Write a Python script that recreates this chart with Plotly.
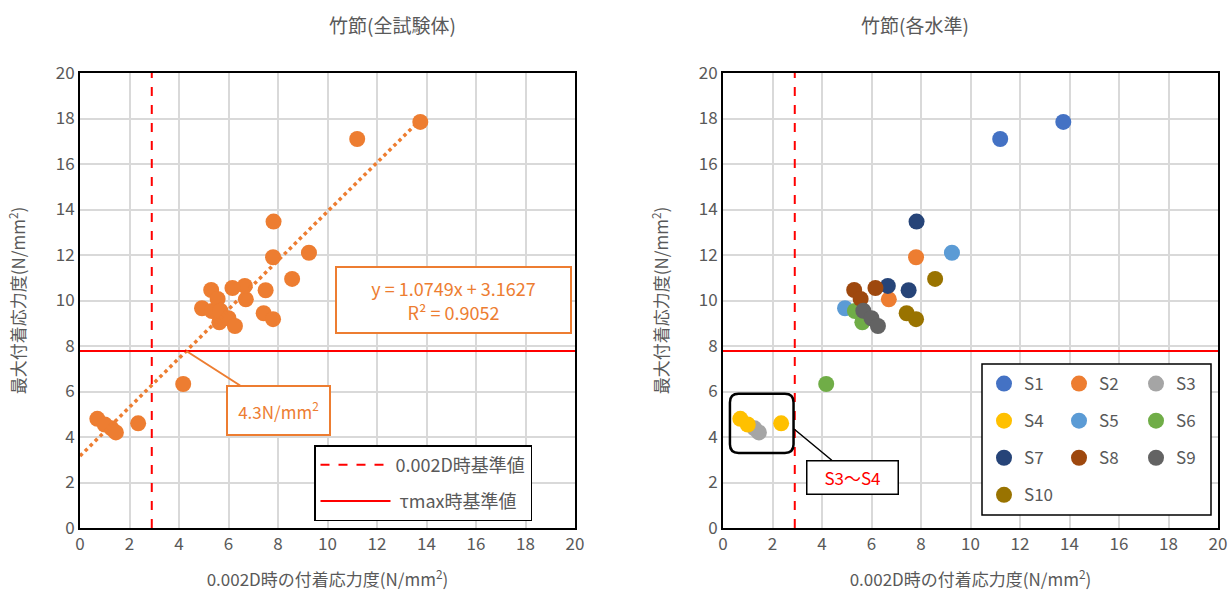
import plotly.graph_objects as go

# ---------------- data ----------------
series_names = ["S1", "S2", "S3", "S4", "S5", "S6", "S7", "S8", "S9", "S10"]
series_colors = ["#4472C4", "#ED7D31", "#A5A5A5", "#FFC000", "#5B9BD5",
                 "#70AD47", "#264478", "#9E480E", "#636363", "#997300"]

s1_x = [11.2, 13.75]
s1_y = [17.1, 17.85]
s2_x = [7.8, 6.7]
s2_y = [11.9, 10.05]
s3_x = [1.27, 1.45]
s3_y = [4.38, 4.2]
s4_x = [0.7, 1.0, 2.35]
s4_y = [4.8, 4.55, 4.6]
s5_x = [4.93, 9.25]
s5_y = [9.66, 12.1]
s6_x = [4.17, 5.33, 5.63]
s6_y = [6.33, 9.54, 9.04]
s7_x = [7.82, 6.66, 7.5]
s7_y = [13.47, 10.64, 10.45]
s8_x = [5.3, 6.16, 5.56]
s8_y = [10.46, 10.55, 10.07]
s9_x = [5.67, 6.0, 6.26]
s9_y = [9.55, 9.22, 8.88]
s10_x = [8.57, 7.42, 7.8]
s10_y = [10.95, 9.44, 9.18]

series_x = [s1_x, s2_x, s3_x, s4_x, s5_x, s6_x, s7_x, s8_x, s9_x, s10_x]
series_y = [s1_y, s2_y, s3_y, s4_y, s5_y, s6_y, s7_y, s8_y, s9_y, s10_y]

ref_x = 2.9        # 0.002D時基準値
ref_y = 7.78       # τmax時基準値
slope = 1.0749
intercept = 3.1627
r2 = 0.9052
axis_ticks = [0, 2, 4, 6, 8, 10, 12, 14, 16, 18, 20]

# ---------------- figure ----------------
W, H = 1232, 594
FONT = "Noto Sans CJK JP"
GRAY = "#595959"
ORANGE = "#ED7D31"

fig = go.Figure()

all_x = [v for xs in series_x for v in xs]
all_y = [v for ys in series_y for v in ys]

# left: all specimens
fig.add_trace(go.Scatter(x=all_x, y=all_y, mode="markers",
                         marker=dict(color=ORANGE, size=16, line=dict(width=0)),
                         showlegend=False, xaxis="x", yaxis="y"))
x_end = max(all_x)
fig.add_trace(go.Scatter(x=[0, x_end], y=[intercept, intercept + slope * x_end],
                         mode="lines", line=dict(color=ORANGE, width=3.5, dash="dot"),
                         showlegend=False, xaxis="x", yaxis="y"))
fig.add_trace(go.Scatter(x=[ref_x, ref_x], y=[0, 20], mode="lines",
                         line=dict(color="#FF0000", width=2, dash="dash"),
                         name="0.002D時基準値", legend="legend", legendgroup="a",
                         xaxis="x", yaxis="y"))
fig.add_trace(go.Scatter(x=[0, 20], y=[ref_y, ref_y], mode="lines",
                         line=dict(color="#FF0000", width=2),
                         name=" τmax時基準値", legend="legend", legendgroup="b",
                         xaxis="x", yaxis="y"))

# right: by level
fig.add_trace(go.Scatter(x=[ref_x, ref_x], y=[0, 20], mode="lines",
                         line=dict(color="#FF0000", width=2, dash="dash"),
                         showlegend=False, xaxis="x2", yaxis="y2"))
fig.add_trace(go.Scatter(x=[0, 20], y=[ref_y, ref_y], mode="lines",
                         line=dict(color="#FF0000", width=2),
                         showlegend=False, xaxis="x2", yaxis="y2"))
for i, (nm, col, xs, ys) in enumerate(zip(series_names, series_colors, series_x, series_y)):
    fig.add_trace(go.Scatter(x=xs, y=ys, mode="markers", name=nm,
                             marker=dict(color=col, size=16, line=dict(width=0)),
                             legend=["legend2", "legend3", "legend4"][i % 3],
                             legendgroup=nm, xaxis="x2", yaxis="y2"))

def px_x(p):
    return p / W

def px_y(p):
    return (H - p) / H

axis_common = dict(range=[0, 20], tickvals=axis_ticks, showgrid=True,
                   gridcolor="#D9D9D9", gridwidth=2, zeroline=False,
                   showline=True, linecolor="black", linewidth=2, mirror=True,
                   ticks="", automargin=False,
                   tickfont=dict(family=FONT, size=17, color=GRAY))

xt = dict(text="0.002D時の付着応力度(N/mm<sup>2</sup>)",
          font=dict(family=FONT, size=17, color=GRAY), standoff=20)
yt = dict(text="最大付着応力度(N/mm<sup>2</sup>)",
          font=dict(family=FONT, size=17, color=GRAY), standoff=26)

legend_font = dict(family=FONT, size=17, color=GRAY)

fig.update_layout(
    width=W, height=H, paper_bgcolor="white", plot_bgcolor="white",
    margin=dict(l=0, r=0, t=0, b=0, autoexpand=False),
    xaxis=dict(domain=[px_x(80), px_x(575)], anchor="y", title=xt, **axis_common),
    yaxis=dict(domain=[px_y(528), px_y(73)], anchor="x", title=yt, **axis_common),
    xaxis2=dict(domain=[px_x(723), px_x(1218)], anchor="y2", title=xt, **axis_common),
    yaxis2=dict(domain=[px_y(528), px_y(73)], anchor="x2", title=yt, **axis_common),
    legend=dict(x=px_x(314), y=px_y(445), xanchor="left", yanchor="top",
                bgcolor="white", bordercolor="black", borderwidth=1.5,
                font=dict(family=FONT, size=18, color=GRAY),
                traceorder="grouped", tracegroupgap=10,
                itemwidth=70, entrywidth=160, entrywidthmode="pixels"),
    legend2=dict(x=px_x(984), y=px_y(366), xanchor="left", yanchor="top",
                 bgcolor="rgba(0,0,0,0)", borderwidth=0, font=legend_font,
                 traceorder="grouped", tracegroupgap=12, itemwidth=30),
    legend3=dict(x=px_x(1059), y=px_y(366), xanchor="left", yanchor="top",
                 bgcolor="rgba(0,0,0,0)", borderwidth=0, font=legend_font,
                 traceorder="grouped", tracegroupgap=12, itemwidth=30),
    legend4=dict(x=px_x(1136), y=px_y(366), xanchor="left", yanchor="top",
                 bgcolor="rgba(0,0,0,0)", borderwidth=0, font=legend_font,
                 traceorder="grouped", tracegroupgap=12, itemwidth=30),
    showlegend=True,
)

# titles
fig.add_annotation(text="竹節(全試験体)", x=(px_x(80) + px_x(575)) / 2, y=px_y(25),
                   xref="paper", yref="paper", showarrow=False, yanchor="middle",
                   font=dict(family=FONT, size=19, color=GRAY))
fig.add_annotation(text="竹節(各水準)", x=(px_x(723) + px_x(1218)) / 2, y=px_y(25),
                   xref="paper", yref="paper", showarrow=False, yanchor="middle",
                   font=dict(family=FONT, size=19, color=GRAY))

# equation box
fig.add_annotation(text=f"y = {slope}x + {intercept}<br>R² = {r2}",
                   x=15.1, y=10.02, xref="x", yref="y", showarrow=False,
                   font=dict(family=FONT, size=18, color=ORANGE),
                   bgcolor="white", bordercolor=ORANGE, borderwidth=2,
                   borderpad=4, width=225, height=56)

# 4.3N/mm2 callout
x_cross = (ref_y - intercept) / slope
fig.add_annotation(text=f"{x_cross:.1f}N/mm<sup>2</sup>", x=x_cross, y=ref_y,
                   xref="x", yref="y", ax=92, ay=59, showarrow=True,
                   arrowhead=0, arrowwidth=2, arrowcolor=ORANGE,
                   font=dict(family=FONT, size=17, color=ORANGE),
                   bgcolor="white", bordercolor=ORANGE, borderwidth=2,
                   width=95, height=41, borderpad=3)

# right legend box
fig.add_shape(type="rect", xref="paper", yref="paper",
              x0=px_x(982), x1=px_x(1211), y0=px_y(515), y1=px_y(364),
              fillcolor="white", line=dict(color="black", width=1.5), layer="above")

# S3~S4 rounded rectangle
x0, x1, y0, y1, rx, ry = 0.28, 2.85, 3.3, 5.9, 0.35, 0.38
path = (f"M {x0+rx},{y0} L {x1-rx},{y0} Q {x1},{y0} {x1},{y0+ry} "
        f"L {x1},{y1-ry} Q {x1},{y1} {x1-rx},{y1} L {x0+rx},{y1} "
        f"Q {x0},{y1} {x0},{y1-ry} L {x0},{y0+ry} Q {x0},{y0} {x0+rx},{y0} Z")
fig.add_shape(type="path", path=path, xref="x2", yref="y2",
              line=dict(color="black", width=2.5), layer="above")
fig.add_annotation(text="S3〜S4", x=2.87, y=4.35, xref="x2", yref="y2",
                   ax=58, ay=48, showarrow=True, arrowhead=0, arrowwidth=1.5,
                   arrowcolor="black",
                   font=dict(family=FONT, size=17, color="#FF0000"),
                   bgcolor="white", bordercolor="black", borderwidth=1.5,
                   width=84, height=26, borderpad=3)

fig.write_html("out.html", config={"displayModeBar": False},
               post_script="document.body.style.margin='0';document.body.style.padding='0';")
